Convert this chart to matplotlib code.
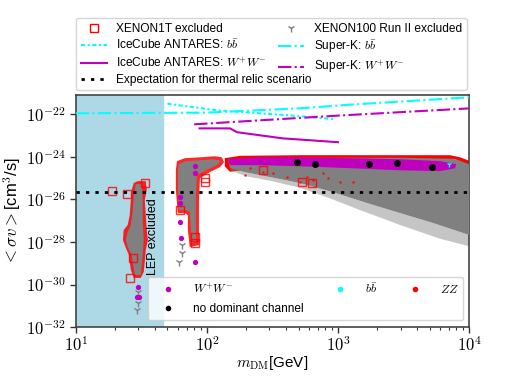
import numpy as np
import matplotlib
matplotlib.use("Agg")
import matplotlib.pyplot as plt
from matplotlib.lines import Line2D

plt.rcParams['font.family'] = ['Liberation Sans', 'DejaVu Sans']
plt.rcParams['mathtext.fontset'] = 'cm'

# ---------------- data (mass in GeV, log10 <sigma v> in cm^3/s) ----------------
# limit curves
sk_bb_m = [10, 100, 500, 1200, 10000]
sk_bb_s = [-21.95, -21.92, -21.72, -21.55, -21.2]
ic_bb_m = [50, 120, 430, 950]
ic_bb_s = [-21.5, -21.81, -22.05, -22.23]
sk_ww_m = [80, 213, 1000, 10000]
sk_ww_s = [-22.47, -22.31, -22.06, -21.72]
ic_ww_m = [88, 150, 170, 380, 1000]
ic_ww_s = [-22.66, -22.66, -22.84, -23.13, -23.31]
thermal = 2.2e-26
lep_limit = 46.0

# dense scan regions (outlines)
left_red_m = [29.7, 34.2, 34.8, 33.6, 34.2, 34.8, 35.5, 34.2, 33.6, 33.0, 31.3, 27.7,
              26.3, 25.4, 24.1, 22.9, 23.2, 24.9, 25.8, 26.3, 26.7, 27.7]
left_red_s = [-25.14, -25.14, -25.56, -26.03, -26.74, -27.44, -27.91, -28.38, -28.94, -29.41,
              -29.69, -29.69, -29.31, -28.61, -28.28, -27.91, -27.44, -27.20, -26.74, -26.03,
              -25.56, -25.23]
left_grey_m = [28.7, 31.9, 32.4, 32.4, 33.0, 32.4, 31.3, 28.2, 26.7, 24.9, 24.1, 24.9, 26.3,
               27.2, 27.7]
left_grey_s = [-25.28, -25.28, -26.03, -26.97, -27.91, -28.61, -29.55, -29.55, -28.61, -28.24,
               -27.91, -27.53, -27.20, -26.50, -25.80]
mid_red_m = [59.1, 68, 88.5, 115, 130, 135, 126, 105, 88.5, 87, 87, 87, 74, 71.6, 71.6, 68,
             60, 58, 58]
mid_red_s = [-24.20, -24.06, -24.02, -23.97, -24.02, -24.25, -24.48, -24.72, -25.00, -26.03,
             -26.97, -28.14, -28.24, -27.44, -26.74, -26.64, -26.64, -25.56, -24.63]
mid_grey_m = [61, 69.2, 88.5, 113, 124, 126, 119, 102, 83.9, 82.4, 82.4, 82.4, 76.8, 75.5, 74,
              69.2, 61.5, 60.2, 60.2]
mid_grey_s = [-24.34, -24.20, -24.16, -24.11, -24.16, -24.25, -24.39, -24.58, -24.86, -26.03,
              -26.97, -28.0, -28.05, -27.34, -26.59, -26.50, -26.50, -25.56, -24.63]
right_red_m = [137, 179, 513, 1236, 2970, 7160, 8530, 10000, 10000, 2970, 513, 150, 137]
right_red_s = [-24.06, -23.95, -23.92, -23.92, -23.92, -23.92, -24.02, -24.18, -24.50, -24.3,
               -24.3, -24.7, -24.45]
right_grey_m = [144.6, 513, 2970, 7820, 10000, 10000, 5310, 2970, 1665, 916, 513, 303, 195, 150]
right_grey_s = [-24.10, -24.04, -24.04, -24.09, -24.35, -27.67, -27.11, -26.64, -26.17, -25.66,
                -25.23, -24.95, -24.72, -24.53]
fringe_m = [150, 195, 303, 513, 916, 1665, 2970, 5310, 10000, 10000, 6010, 2970, 1472, 869,
            513, 303, 195, 150]
fringe_s = [-24.53, -24.72, -24.95, -25.23, -25.66, -26.17, -26.64, -27.11, -27.67, -28.2,
            -27.85, -27.2, -26.5, -25.95, -25.45, -25.12, -24.90, -24.62]
ww_band_m = [144.6, 254, 513, 1236, 2970, 6010, 7960, 7820, 6010, 2970, 1236, 513, 254, 150]
ww_band_s = [-24.11, -24.02, -24.02, -24.06, -24.11, -24.20, -24.34, -24.53, -24.67, -24.63,
             -24.53, -24.44, -24.39, -24.39]

# sparse points
x1t_m = [18.8, 24.5, 33.6, 25.8, 27.2, 81, 81, 62, 97, 96.6, 267, 531, 634]
x1t_s = [-25.6, -25.75, -25.23, -29.69, -28.75, -27.77, -28.05, -26.5, -25.19, -25.0,
         -24.63, -25.19, -25.23]
x1t_small_m = [213, 195, 267, 319, 408, 513, 580, 644, 768, 839, 1036, 1303]
x1t_small_s = [-24.53, -24.86, -24.72, -24.77, -24.95, -25.19, -24.95, -25.09, -24.77, -25.0,
               -25.19, -25.19]
x100_m = [64.5, 64.5, 61.1, 29.7, 29.7, 29.2]
x100_s = [-28.14, -28.52, -28.94, -30.35, -30.86, -31.19]
ww_m = [81, 81, 62, 62, 62, 63.4, 81, 29.7, 29.2, 30.3]
ww_s = [-24.44, -24.77, -25.89, -26.17, -27.06, -27.81, -28.94, -30.11, -30.58, -30.58]
nodom_m = [486, 667, 1726, 2818, 5224]
nodom_s = [-24.25, -24.35, -24.35, -24.30, -24.49]
bb_m = [7030]
bb_s = [-24.34]


def p(a):
    return 10.0 ** np.asarray(a, dtype=float)


# ---------------- figure ----------------
fig = plt.figure(figsize=(5.05, 3.79), dpi=100)
ax = fig.add_axes([0.150, 0.137, 0.779, 0.612])
ax.set_xscale('log')
ax.set_yscale('log')
ax.set_xlim(10, 1e4)
ax.set_ylim(1e-32, 8e-22)

ax.axvspan(10, lep_limit, color='lightblue', zorder=0)
ax.text(38.7, p(-27.77), 'LEP excluded', rotation=90, ha='center', va='center', fontsize=9)

red = '#ff0000'
grey = '#808080'
# dense clouds
ax.fill(left_red_m, p(left_red_s), color=red, alpha=0.85, lw=0, zorder=2)
ax.fill(mid_red_m, p(mid_red_s), color=red, alpha=0.85, lw=0, zorder=2)
ax.fill(right_red_m, p(right_red_s), color=red, lw=0, zorder=2)
ax.fill(fringe_m, p(fringe_s), color=grey, alpha=0.45, lw=0, zorder=2.5)
ax.fill(left_grey_m, p(left_grey_s), color=grey, lw=0, zorder=3)
ax.fill(mid_grey_m, p(mid_grey_s), color=grey, lw=0, zorder=3)
ax.fill(right_grey_m, p(right_grey_s), color=grey, lw=0, zorder=3)
ax.fill(ww_band_m, p(ww_band_s), color='m', lw=0, zorder=4)

# sparse markers
ax.plot(x1t_m, p(x1t_s), 's', ms=5.5, mfc='none', mec=red, mew=1, alpha=0.8, ls='none', zorder=3.5)
ax.plot(x1t_small_m, p(x1t_small_s), 's', ms=2, color=red, mec='none', ls='none', zorder=3.5)
ax.plot(x100_m, p(x100_s), '1', ms=6, color=grey, ls='none', zorder=3.6)
ax.plot(ww_m, p(ww_s), 'o', ms=3.8, color='m', mec='none', ls='none', zorder=4)
ax.plot(nodom_m, p(nodom_s), 'o', ms=5, color='k', mec='none', ls='none', zorder=5)
ax.plot(bb_m, p(bb_s), '1', ms=4, color='cyan', ls='none', zorder=5)

# limit lines
l_skbb, = ax.plot(sk_bb_m, p(sk_bb_s), color='cyan', ls='-.', lw=1.5, zorder=6)
l_icbb, = ax.plot(ic_bb_m, p(ic_bb_s), color='cyan', ls=(0, (2, 1.2, 1, 1.2)), lw=1.5, zorder=6)
l_skww, = ax.plot(sk_ww_m, p(sk_ww_s), color='m', ls='-.', lw=1.5, zorder=6)
l_icww, = ax.plot(ic_ww_m, p(ic_ww_s), color='m', ls='-', lw=1.5, zorder=6)
l_th = ax.axhline(thermal, color='k', ls=(0, (1.2, 2.2)), lw=2, zorder=6)

# ticks
ax.set_yticks([1e-32, 1e-30, 1e-28, 1e-26, 1e-24, 1e-22])
ax.set_yticklabels([r'$10^{-32}$', r'$10^{-30}$', r'$10^{-28}$', r'$10^{-26}$',
                    r'$10^{-24}$', r'$10^{-22}$'])
ax.yaxis.set_minor_locator(matplotlib.ticker.NullLocator())
ax.set_xticks([10, 100, 1000, 10000])
ax.set_xticklabels([r'$10^{1}$', r'$10^{2}$', r'$10^{3}$', r'$10^{4}$'])
ax.tick_params(axis='both', which='major', labelsize=12, length=4, width=1, color='#333333')
ax.tick_params(axis='x', which='major', pad=2)
ax.tick_params(axis='x', which='minor', length=2.5, width=0.8, color='#333333')
for s in ax.spines.values():
    s.set_color('#444444')
    s.set_linewidth(1.2)

ax.set_xlabel(r'$m_{\rm DM}$[GeV]', fontsize=11, labelpad=0)
ax.set_ylabel(r'$<\sigma v>$[cm$^3$/s]', fontsize=12, labelpad=2)

# top legend
h_x1t = Line2D([], [], marker='s', ms=5.5, mfc='none', mec=red, mew=1, ls='none')
h_x100 = Line2D([], [], marker='1', ms=6, color=grey, ls='none')
leg1 = ax.legend([h_x1t, l_icbb, l_icww, l_th, h_x100, l_skbb, l_skww],
                 ['XENON1T excluded', r'IceCube ANTARES: $b\bar{b}$', r'IceCube ANTARES: $W^{+}W^{-}$',
                  'Expectation for thermal relic scenario', 'XENON100 Run II excluded',
                  r'Super-K: $b\bar{b}$', r'Super-K: $W^{+}W^{-}$'],
                 ncol=2, loc='lower left', bbox_to_anchor=(0, 1.02),
                 borderaxespad=0, fontsize=8.6, labelspacing=0.3, handlelength=2.2,
                 columnspacing=-2.85, frameon=True)
ax.add_artist(leg1)

h_ww = Line2D([], [], marker='o', ms=4, color='m', mec='none', ls='none')
h_nd = Line2D([], [], marker='o', ms=4, color='k', mec='none', ls='none')
h_bb = Line2D([], [], marker='o', ms=4, color='cyan', mec='none', ls='none')
h_zz = Line2D([], [], marker='o', ms=4, color='red', mec='none', ls='none')
leg2 = ax.legend([h_ww, h_nd, h_bb, h_zz],
                 [r'$W^{+}W^{-}$', 'no dominant channel', r'$b\bar{b}$', r'$ZZ$'],
                 ncol=3, mode='expand', loc='lower left', bbox_to_anchor=(0.183, 0.03, 0.802, 0.2),
                 borderaxespad=0, fontsize=8.6, labelspacing=0.6, handlelength=2.6)
leg2.set_zorder(10)

fig.savefig('out.png', dpi=100)
